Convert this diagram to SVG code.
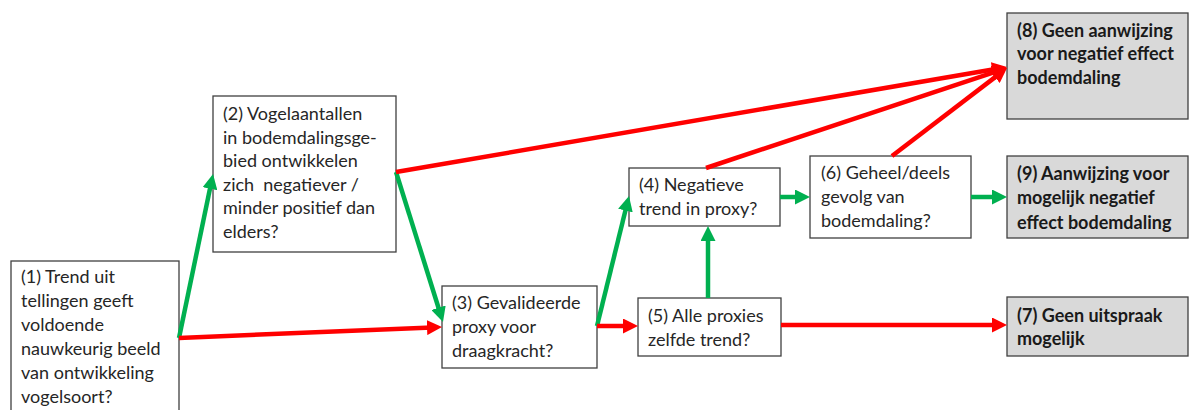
<svg xmlns="http://www.w3.org/2000/svg" width="1189" height="410" viewBox="0 0 1189 410">
<style>
.box{fill:#ffffff;stroke:#404040;stroke-width:1.3}
.end{fill:#d9d9d9;stroke:#404040;stroke-width:1.3}
.t{font-family:Lato,"Open Sans",sans-serif;font-size:18px;fill:#262626;white-space:pre}
.b{font-family:Lato,"Open Sans",sans-serif;font-size:18px;font-weight:bold;fill:#1a1a1a}
.g{stroke:#00b050;stroke-width:4.5;fill:none;marker-end:url(#ag)}
.r{stroke:#ff0000;stroke-width:4.5;fill:none;marker-end:url(#ar)}
</style>
<defs>
<marker id="ag" viewBox="0 0 15 15" refX="5" refY="7.5" markerWidth="15" markerHeight="15" markerUnits="userSpaceOnUse" orient="auto"><path d="M0,0 L15,7.5 L0,15 z" fill="#00b050"/></marker>
<marker id="ar" viewBox="0 0 15 15" refX="5" refY="7.5" markerWidth="15" markerHeight="15" markerUnits="userSpaceOnUse" orient="auto"><path d="M0,0 L15,7.5 L0,15 z" fill="#ff0000"/></marker>
</defs>
<rect width="1189" height="410" fill="#ffffff"/>
<g id="n1"><rect class="box" x="11" y="261" width="168" height="160"/>
<text class="t" x="21" y="283">(1) Trend uit</text>
<text class="t" x="21" y="307">tellingen geeft</text>
<text class="t" x="21" y="331">voldoende</text>
<text class="t" x="21" y="355">nauwkeurig beeld</text>
<text class="t" x="21" y="379">van ontwikkeling</text>
<text class="t" x="21" y="403">vogelsoort?</text></g>
<g id="n2"><rect class="box" x="213" y="96" width="183" height="156"/>
<text class="t" x="223" y="120">(2) Vogelaantallen</text>
<text class="t" x="223" y="143.5">in bodemdalingsge-</text>
<text class="t" x="223" y="167">bied ontwikkelen</text>
<text class="t" x="223" y="190.5" xml:space="preserve">zich  negatiever /</text>
<text class="t" x="223" y="214">minder positief dan</text>
<text class="t" x="223" y="237.5">elders?</text></g>
<g id="n3"><rect class="box" x="442" y="286" width="155" height="82"/>
<text class="t" x="452" y="309">(3) Gevalideerde</text>
<text class="t" x="452" y="333">proxy voor</text>
<text class="t" x="452" y="357">draagkracht?</text></g>
<g id="n5"><rect class="box" x="638" y="298" width="143" height="58"/>
<text class="t" x="648" y="322">(5) Alle proxies</text>
<text class="t" x="648" y="346">zelfde trend?</text></g>
<g id="n4"><rect class="box" x="629" y="168" width="151" height="58"/>
<text class="t" x="639" y="191">(4) Negatieve</text>
<text class="t" x="639" y="215">trend in proxy?</text></g>
<g id="n6"><rect class="box" x="810" y="156" width="161" height="82"/>
<text class="t" x="821" y="179">(6) Geheel/deels</text>
<text class="t" x="821" y="203">gevolg van</text>
<text class="t" x="821" y="227">bodemdaling?</text></g>
<g id="n8"><rect class="end" x="1007" y="13" width="181" height="106"/>
<text class="b" x="1017" y="37">(8) Geen aanwijzing</text>
<text class="b" x="1017" y="60">voor negatief effect</text>
<text class="b" x="1017" y="84">bodemdaling</text></g>
<g id="n9"><rect class="end" x="1007" y="156" width="181" height="82"/>
<text class="b" x="1017" y="180">(9) Aanwijzing voor</text>
<text class="b" x="1017" y="204">mogelijk negatief</text>
<text class="b" x="1017" y="229">effect bodemdaling</text></g>
<g id="n7"><rect class="end" x="1007" y="297" width="181" height="59"/>
<text class="b" x="1017" y="322">(7) Geen uitspraak</text>
<text class="b" x="1017" y="345">mogelijk</text></g>
<g id="connectors">
<line class="g" x1="179" y1="338" x2="211" y2="183.8"/>
<line class="r" x1="179" y1="338" x2="432" y2="327.4"/>
<line class="g" x1="396" y1="172" x2="440" y2="312.5"/>
<line class="r" x1="396" y1="172" x2="997.1" y2="68.7"/>
<line class="g" x1="597" y1="326" x2="626.6" y2="205.7"/>
<line class="r" x1="597" y1="326" x2="628" y2="326"/>
<line class="g" x1="708" y1="298" x2="708" y2="236"/>
<line class="r" x1="706" y1="168" x2="997.5" y2="71.2"/>
<line class="g" x1="780" y1="197" x2="800" y2="197"/>
<line class="r" x1="892" y1="156" x2="999.1" y2="74.1"/>
<line class="g" x1="971" y1="197" x2="997" y2="197"/>
<line class="r" x1="781" y1="325" x2="997" y2="325"/>
</g>
</svg>
